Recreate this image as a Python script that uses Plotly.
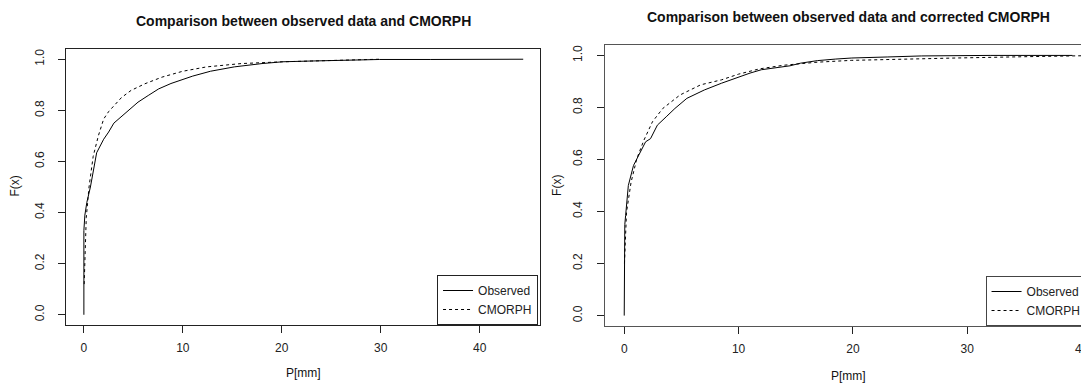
import plotly.graph_objects as go

# ---- data ----
left_obs_x = [0, 0, 0.1, 0.3, 0.66, 1.0, 1.29, 2.0, 2.5, 3.03, 3.7, 4.5, 5.47, 6.5, 7.56,
              8.8, 10.0, 11.0, 12.8, 15.2, 18.0, 20.1, 23.0, 26.4, 29.9, 35.0, 40.0, 44.4]
left_obs_F = [0, 0.33, 0.39, 0.44, 0.50, 0.58, 0.634, 0.687, 0.715, 0.75, 0.772, 0.80, 0.832,
              0.858, 0.884, 0.905, 0.921, 0.934, 0.953, 0.97, 0.983, 0.99, 0.993, 0.996,
              0.999, 0.999, 1.0, 1.0]
left_cm_x = [0.03, 0.07, 0.15, 0.24, 0.52, 0.94, 1.46, 2.0, 2.5, 3.03, 3.8, 4.77, 6.17, 7.9,
             10.0, 12.4, 15.9, 20.1, 25.0, 29.9]
left_cm_F = [0.12, 0.19, 0.29, 0.38, 0.50, 0.62, 0.70, 0.766, 0.795, 0.818, 0.85, 0.878, 0.904,
             0.93, 0.953, 0.97, 0.983, 0.99, 0.996, 1.0]

right_obs_x = [0, 0, 0.05, 0.12, 0.36, 0.81, 1.42, 1.87, 2.3, 2.9, 3.67, 4.43, 5.48, 7.0, 8.5,
               10.0, 11.0, 12.0, 13.3, 14.5, 15.4, 16.9, 18.5, 19.9, 23.0, 26.0, 32.0, 39.2]
right_obs_F = [0, 0.287, 0.35, 0.384, 0.50, 0.577, 0.629, 0.668, 0.68, 0.732, 0.764, 0.796,
               0.835, 0.867, 0.893, 0.918, 0.932, 0.945, 0.953, 0.96, 0.97, 0.98, 0.986, 0.99,
               0.994, 0.998, 1.0, 1.0]
right_cm_x = [0.02, 0.06, 0.2, 0.6, 1.1, 1.72, 2.47, 3.37, 4.88, 6.69, 8.5, 10.0, 11.8, 13.9,
              16.9, 19.9, 23.0, 29.0, 35.0, 40.5]
right_cm_F = [0.2, 0.242, 0.397, 0.513, 0.603, 0.674, 0.745, 0.796, 0.848, 0.887, 0.906, 0.928,
              0.948, 0.962, 0.974, 0.981, 0.985, 0.99, 0.995, 0.999]

x_ticks = [0, 10, 20, 30, 40]
y_ticks = [0.0, 0.2, 0.4, 0.6, 0.8, 1.0]
y_ticktext = ["0.0", "0.2", "0.4", "0.6", "0.8", "1.0"]

series_names = ["Observed", "CMORPH"]
titles = ["Comparison between observed data and CMORPH",
          "Comparison between observed data and corrected CMORPH"]

# page body has an 8px margin, so the figure starts at (8, 8) in the window
OFF = 8
W, H = 1089 - OFF, 385 - OFF
FONT = "Liberation Sans, Arial, Helvetica, sans-serif"

fig = go.Figure()
fig.add_trace(go.Scatter(x=left_obs_x, y=left_obs_F, mode="lines", name=series_names[0],
                         line=dict(color="black", width=1), xaxis="x", yaxis="y", legend="legend"))
fig.add_trace(go.Scatter(x=left_cm_x, y=left_cm_F, mode="lines", name=series_names[1],
                         line=dict(color="black", width=1, dash="3px,3px"), xaxis="x", yaxis="y",
                         legend="legend"))
fig.add_trace(go.Scatter(x=right_obs_x, y=right_obs_F, mode="lines", name=series_names[0],
                         line=dict(color="black", width=1), xaxis="x2", yaxis="y2", legend="legend2"))
fig.add_trace(go.Scatter(x=right_cm_x, y=right_cm_F, mode="lines", name=series_names[1],
                         line=dict(color="black", width=1, dash="3px,3px"), xaxis="x2", yaxis="y2",
                         legend="legend2"))

def px_x(p):
    return (p - OFF) / W

def px_y(p):
    return 1 - (p - OFF) / H

axis_common = dict(showgrid=False, zeroline=False, showline=True, ticks="outside", ticklen=7,
                   tickwidth=1, tickfont=dict(size=12, color="#222", family=FONT))

fig.update_layout(
    width=W, height=H,
    margin=dict(l=0, r=0, t=0, b=0),
    paper_bgcolor="white", plot_bgcolor="white",
    font=dict(family=FONT, color="#222"),
    xaxis=dict(domain=[px_x(66.7), px_x(543)], range=[-1.77, 46.1], tickvals=x_ticks,
               linecolor="#222", tickcolor="#222", mirror=True, anchor="y",
               ticklabelstandoff=5, **axis_common),
    yaxis=dict(domain=[px_y(325), px_y(49)], range=[-0.04, 1.04], tickvals=y_ticks,
               ticktext=y_ticktext, tickangle=-90, linecolor="#222", tickcolor="#222",
               mirror=True, anchor="x", ticklabelstandoff=10, **axis_common),
    xaxis2=dict(domain=[px_x(608), 1.0], range=[-1.71, 40.12], tickvals=x_ticks,
                linecolor="#555", tickcolor="#222", mirror=True, anchor="y2",
                ticklabelstandoff=5, ticklabeloverflow="allow", **axis_common),
    yaxis2=dict(domain=[px_y(326), px_y(45)], range=[-0.04, 1.04], tickvals=y_ticks,
                ticktext=y_ticktext, tickangle=-90, linecolor="#555", tickcolor="#222",
                mirror=False, anchor="x2", ticklabelstandoff=10, **axis_common),
    legend=dict(x=px_x(541), y=px_y(325), xanchor="right", yanchor="bottom",
                bordercolor="#222", borderwidth=1, bgcolor="white",
                font=dict(size=12, family=FONT, color="#222"), itemwidth=30,
                tracegroupgap=0),
    legend2=dict(x=px_x(991), y=px_y(326), xanchor="left", yanchor="bottom",
                 bordercolor="#444", borderwidth=1, bgcolor="white",
                 font=dict(size=12, family=FONT, color="#222"), itemwidth=30,
                 tracegroupgap=0),
    showlegend=True,
)

def ann(text, x, y, size, angle=0):
    return dict(text=text, x=px_x(x), y=px_y(y), xref="paper", yref="paper",
                xanchor="center", yanchor="middle", showarrow=False, textangle=angle,
                font=dict(size=size, family=FONT, color="#111"))

annotations = [
    ann("<b>" + titles[0] + "</b>", 305, 21, 14),
    ann("<b>" + titles[1] + "</b>", 853, 17, 14),
    ann("P[mm]", 305, 373, 12),
    ann("P[mm]", 853, 376, 12),
    ann("F(x)", 15, 185.5, 12, -90),
    ann("F(x)", 560, 185, 12, -90),
]
fig.update_layout(annotations=annotations)

fig.write_html("out.html")
